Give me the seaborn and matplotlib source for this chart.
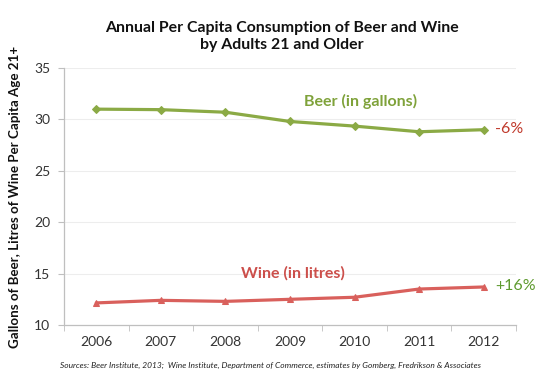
import numpy as np
import pandas as pd
import matplotlib
matplotlib.use("Agg")
import matplotlib.pyplot as plt
import seaborn as sns

years = ["2006", "2007", "2008", "2009", "2010", "2011", "2012"]
beer_gallons = [31.0, 30.95, 30.7, 29.8, 29.35, 28.8, 29.0]
wine_litres = [12.15, 12.4, 12.3, 12.5, 12.7, 13.5, 13.7]

beer_color = "#8BAA45"
wine_color = "#D9605C"

sns.set_style("white")
plt.rcParams["font.family"] = ["Lato", "DejaVu Sans"]

df = pd.DataFrame({"year": years, "beer": beer_gallons, "wine": wine_litres})

fig = plt.figure(figsize=(5.4, 3.83), dpi=100)
ax = fig.add_axes([0.1185, 0.1514, 0.837, 0.671])

sns.lineplot(data=df, x="year", y="beer", ax=ax, color=beer_color, linewidth=2.3,
             marker="D", markersize=4, markeredgecolor=beer_color, sort=False)
sns.lineplot(data=df, x="year", y="wine", ax=ax, color=wine_color, linewidth=2.3,
             marker="^", markersize=5, markeredgecolor=wine_color, sort=False)

ax.set_xlim(-0.5, len(years) - 0.5)
ax.set_ylim(10, 35)
ax.set_yticks(range(10, 36, 5))
ax.grid(axis="y", color="#EDEDED", linewidth=0.8)
ax.set_axisbelow(True)
for s in ["top", "right"]:
    ax.spines[s].set_visible(False)
for s in ["left", "bottom"]:
    ax.spines[s].set_color("#BFBFBF")
    ax.spines[s].set_linewidth(0.9)

ax.set_xticks(range(len(years)))
ax.set_xticklabels(years)
ax.set_xticks(np.arange(-0.5, len(years), 1.0), minor=True)
ax.tick_params(axis="x", which="major", length=0, pad=8, labelsize=10, labelcolor="#333333")
ax.tick_params(axis="x", which="minor", length=4, color="#BFBFBF", direction="out", bottom=True)
ax.tick_params(axis="y", length=4, color="#BFBFBF", direction="out", left=True,
               labelsize=10, labelcolor="#333333", pad=6)

ax.set_xlabel("")
ax.set_ylabel("Gallons of Beer, Litres of Wine Per Capita Age 21+", fontsize=9.6,
              fontweight="bold", color="#111111", labelpad=9)

fig.text(0.522, 0.905, "Annual Per Capita Consumption of Beer and Wine\nby Adults 21 and Older",
         ha="center", va="center", fontsize=11.4, fontweight="bold", color="#111111",
         linespacing=1.3)

ax.text(4.1, 31.7, "Beer (in gallons)", color="#7FA23A", fontsize=11.5, fontweight="bold",
        ha="center", va="center")
ax.text(3.05, 15.0, "Wine (in litres)", color="#CC4F4B", fontsize=11.5, fontweight="bold",
        ha="center", va="center")
ax.text(6.18, 29.1, "-6%", color="#C0392B", fontsize=11.5, ha="left", va="center")
ax.text(6.18, 13.75, "+16%", color="#5E9A2E", fontsize=11.5, ha="left", va="center")

fig.text(0.5, 0.045, "Sources: Beer Institute, 2013;  Wine Institute, Department of Commerce, estimates by Gomberg, Fredrikson & Associates",
         ha="center", va="center", fontsize=6, style="italic", color="#222222")

fig.savefig("out.png", dpi=100)
